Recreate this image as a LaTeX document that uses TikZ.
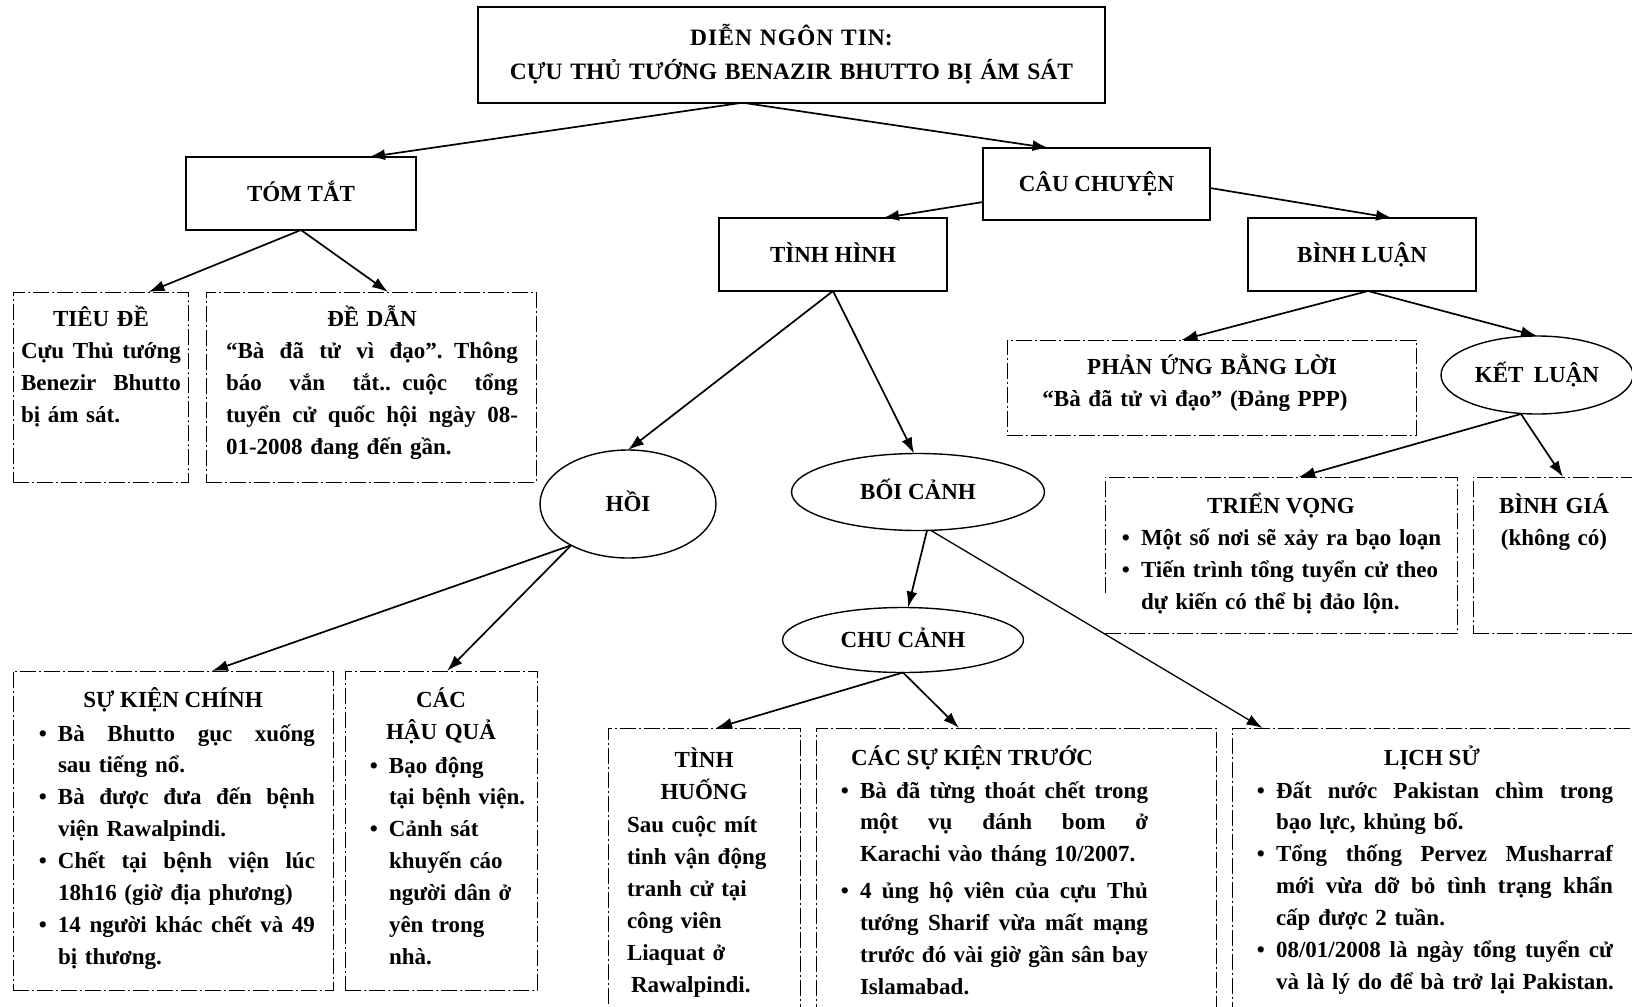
\documentclass[tikz,border=0pt]{standalone}
\usepackage{fontspec}
\setmainfont{Liberation Serif}
\usetikzlibrary{arrows.meta,shapes.geometric,calc}
\newcommand\jl[1]{\makebox[\hsize][s]{\spaceskip=0pt\relax #1}}
\newcommand\lft[1]{\makebox[\hsize][l]{#1}}
\newcommand\ctr[1]{\makebox[\hsize][c]{#1}}
\newcommand\bmark{\leavevmode\llap{•\hspace{11pt}}}
\newcommand\bj[1]{\bmark\jl{#1}}
\newcommand\bl[1]{\bmark\lft{#1}}
\begin{document}
\begin{tikzpicture}[x=1pt,y=-1pt,
  font=\fontsize{23}{32}\selectfont\bfseries,
  every node/.style={inner sep=0pt,outer sep=0pt},
  sbox/.style={draw,line width=1.4pt,anchor=north west,text height=15pt,text depth=0pt},
  dline/.style={line width=1pt,dash pattern=on 16pt off 3pt on 2pt off 3pt},
  dbox/.style={draw,dline,anchor=north west},
  dframe/.style={anchor=north west},
  ell/.style={draw,ellipse,line width=1.4pt,text height=15pt,text depth=0pt},
  body/.style={anchor=base west,align=left},
  tight/.style={font=\fontsize{23}{31.9}\selectfont\bfseries},
  head/.style={anchor=base,align=center},
  arr/.style={-{Latex[length=16pt,width=11pt]},line width=1.7pt}]
\useasboundingbox (0,0) rectangle (1632,1006);
\fill[white] (0,0) rectangle (1632,1006);
\clip (0,0) rectangle (1632,1006);

% ---------- solid boxes ----------
\node[sbox,minimum width=627pt,minimum height=96pt] (title) at (478,7) {};
\node[head,text width=610pt,font=\fontsize{23.5}{32}\selectfont\bfseries] (titletext) at (791.5,46)
  {D\kern1ptI\kern1ptỄ\kern1ptN N\kern1ptG\kern1ptÔ\kern1ptN T\kern1ptI\kern1ptN:\\[2pt]CỰU THỦ TƯỚNG BENAZIR BHUTTO BỊ ÁM SÁT};
\node[sbox,minimum width=230pt,minimum height=73pt] (tomtat) at (186,157) {TÓM TẮT};
\node[sbox,minimum width=227pt,minimum height=72pt] (caucn) at (983,148) {CÂU CHUYỆN};
\node[sbox,minimum width=228pt,minimum height=73pt] (tinhhinh) at (719,218) {TÌNH HÌNH};
\node[sbox,minimum width=228pt,minimum height=73pt] (binhluan) at (1248,218) {BÌNH LUẬN};

% ---------- ellipses ----------
\node[ell,minimum width=176pt,minimum height=108pt] (hoi) at (628,504) {HỒI};
\node[ell,minimum width=253pt,minimum height=77pt] (boicanh) at (918,492) {BỐI CẢNH};
\node[ell,minimum width=241pt,minimum height=65pt] (chucanh) at (903,640) {CHU CẢNH};
\node[ell,minimum width=192pt,minimum height=78pt] (ketluan) at (1537,375) {KẾT\hspace{0.45em}LUẬN};

% ---------- dashed boxes ----------
\node[dbox,minimum width=175pt,minimum height=190pt] (tieude) at (13,292) {};
\node[body,text width=160pt] (tieudetext) at (21,326)
  {\ctr{TIÊU ĐỀ}\\\jl{Cựu Thủ tướng}\\\jl{Benezir Bhutto}\\\lft{bị ám sát.}};

\node[dbox,minimum width=330pt,minimum height=190pt] (dedan) at (206,292) {};
\node[body,text width=292pt] (dedantext) at (226,326)
  {\ctr{ĐỀ DẪN}\\\jl{“Bà đã tử vì đạo”. Thông}\\\jl{báo vắn tắt.. cuộc tổng}\\
   \jl{tuyển cử quốc hội ngày 08-}\\\lft{01-2008 đang đến gần.}};

\node[dbox,minimum width=409pt,minimum height=95pt] (phanung) at (1007,340) {};
\node[head,text width=400pt] (phanungtext) at (1212,374)
  {PHẢN ỨNG BẰNG LỜI\\\hspace*{-34pt}“Bà đã tử vì đạo” (Đảng PPP)};

\node[dframe,minimum width=352pt,minimum height=156pt] (trienvong) at (1105,477) {};
\draw[dline] ($(trienvong.south west)+(0,-40)$) -- (trienvong.north west)
  -- (trienvong.north east) -- (trienvong.south east) -- (trienvong.south west);
\node[head] (trienvonghead) at (1281,513) {TRIỂN VỌNG};
\node[body,text width=305pt] (trienvongtext) at (1141,545)
  {\bl{Một số nơi sẽ xảy ra bạo loạn}\\\bl{Tiến trình tổng tuyển cử theo}\\\lft{dự kiến có thể bị đảo lộn.}};

\node[dbox,minimum width=172pt,minimum height=156pt] (binhgia) at (1473,477) {};
\node[head,text width=160pt] (binhgiatext) at (1554,513) {BÌNH GIÁ\\(không có)};

\node[dbox,minimum width=320pt,minimum height=319pt] (skc) at (13,671) {};
\node[head] (skchead) at (173,707) {SỰ KIỆN CHÍNH};
\node[body,tight,text width=257pt] (skctext) at (58,741)
  {\bj{Bà Bhutto gục xuống}\\\lft{sau tiếng nổ.}\\\bj{Bà được đưa đến bệnh}\\\lft{viện Rawalpindi.}\\
   \bj{Chết tại bệnh viện lúc}\\\lft{18h16 (giờ địa phương)}\\\bj{14 người khác chết và 49}\\\lft{bị thương.}};

\node[dbox,minimum width=192pt,minimum height=319pt] (hauqua) at (345,671) {};
\node[head,text width=180pt] (hauquahead) at (441,707) {CÁC\\HẬU QUẢ};
\node[body,tight,text width=145pt] (hauquatext) at (389,773)
  {\bl{Bạo động}\\\lft{tại bệnh viện.}\\\bl{Cảnh sát}\\\lft{khuyến cáo}\\\lft{người dân ở}\\\lft{yên trong}\\\lft{nhà.}};

\node[dbox,minimum width=192pt,minimum height=292pt] (tinhhuong) at (608,728) {};
\node[head,text width=180pt] (tinhhuonghead) at (704,767) {TÌNH\\HUỐNG};
\node[body,text width=170pt] (tinhhuongtext) at (627,832)
  {\lft{Sau cuộc mít}\\\lft{tinh vận động}\\\lft{tranh cử tại}\\\lft{công viên}\\\lft{Liaquat ở}\\\lft{\hspace*{4pt}Rawalpindi.}};

\node[dbox,minimum width=400pt,minimum height=292pt] (cacsk) at (816,728) {};
\node[head] (cacskhead) at (972,765) {CÁC SỰ KIỆN TRƯỚC};
\node[body,tight,text width=288pt] (cacsktext) at (860,798)
  {\bj{Bà đã từng thoát chết trong}\\\jl{một vụ đánh bom ở}\\\lft{Karachi vào tháng 10/2007.}\\[5pt]
   \bj{4 ủng hộ viên của cựu Thủ}\\\jl{tướng Sharif vừa mất mạng}\\\jl{trước đó vài giờ gần sân bay}\\\lft{Islamabad.}};

\node[dbox,minimum width=413pt,minimum height=292pt] (lichsu) at (1232,728) {};
\node[head] (lichsuhead) at (1432,765) {LỊCH SỬ};
\node[body,tight,text width=337pt] (lichsutext) at (1276,798)
  {\bj{Đất nước Pakistan chìm trong}\\\lft{bạo lực, khủng bố.}\\\bj{Tổng thống Pervez Musharraf}\\
   \jl{mới vừa dỡ bỏ tình trạng khẩn}\\\lft{cấp được 2 tuần.}\\\bj{08/01/2008 là ngày tổng tuyển cử}\\
   \lft{và là lý do để bà trở lại Pakistan.}};

% ---------- arrows ----------
\draw[arr] ($(title.south)+(-51,0)$) -- ($(tomtat.north)+(68,0)$);
\draw[arr] ($(title.south)+(-47,0)$) -- ($(caucn.north)+(-48,0)$);
\draw[arr] (tomtat.south) -- ($(tieude.north)+(48,0)$);
\draw[arr] (tomtat.south) -- ($(dedan.north)+(17,0)$);
\draw[arr] ($(caucn.south west)+(0,-18)$) -- ($(tinhhinh.north)+(50,0)$);
\draw[arr] ($(caucn.north east)+(0,40)$) -- ($(binhluan.north)+(30,0)$);
\draw[arr] (tinhhinh.south) -- (hoi.north);
\draw[arr] (tinhhinh.south) -- ($(boicanh.north)+(-4,0)$);
\draw[arr] ($(binhluan.south)+(6,0)$) -- ($(phanung.north)+(-30,0)$);
\draw[arr] ($(binhluan.south)+(6,0)$) -- (ketluan.north);
\draw[arr] ($(ketluan.south)+(-16,0)$) -- ($(trienvong.north)+(18,0)$);
\draw[arr] ($(ketluan.south)+(-16,0)$) -- ($(binhgia.north)+(4,0)$);
\draw[arr] (hoi.216) -- ($(skc.north)+(39,0)$);
\draw[arr] (hoi.216) -- ($(hauqua.north)+(6,0)$);
\draw[arr] ($(boicanh.south)+(9,0)$) -- ($(chucanh.north)+(5,0)$);
\draw[arr,line width=1.3pt] ($(boicanh.south)+(13,0)$) -- ($(lichsu.north)+(-176,0)$);
\draw[arr] (chucanh.south) -- ($(tinhhuong.north)+(12,0)$);
\draw[arr] (chucanh.south) -- ($(cacsk.north)+(-57,0)$);
\end{tikzpicture}
\end{document}
